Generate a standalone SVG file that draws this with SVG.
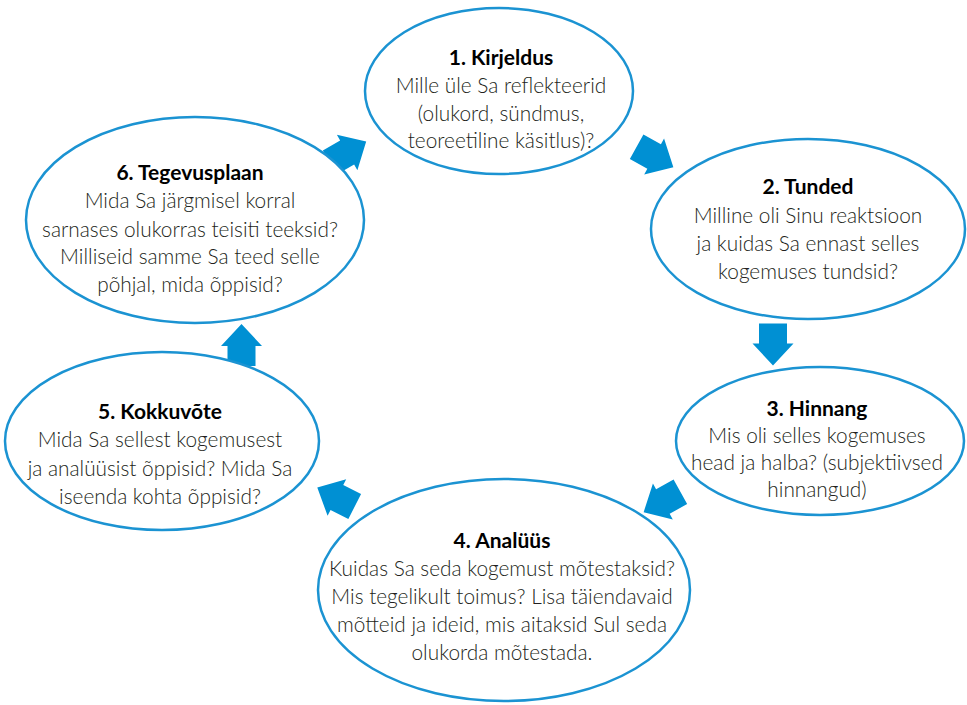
<svg xmlns="http://www.w3.org/2000/svg" width="967" height="705" viewBox="0 0 967 705">
<defs>
<style>
.node ellipse{fill:#fff;stroke:#1b93d2;stroke-width:2.5}
.t{font-family:Lato,"Open Sans","Liberation Sans",sans-serif;font-size:20.8px;fill:#231f20;text-anchor:middle}
.b{font-weight:bold;font-size:21px;fill:#000}
.l{font-weight:300}
.arr{fill:#0090d3}
</style>
<polygon id="ar" points="-21,-14 -1,-14 -1,-20.5 21,0 -1,20.5 -1,14 -21,14"/>
</defs>
<rect width="967" height="705" fill="#fff"/>
<g id="connectors" class="arr">
<use href="#ar" transform="translate(348,152) rotate(-30)"/>
<use href="#ar" transform="translate(655,157) rotate(29)"/>
<use href="#ar" transform="translate(773,344.5) rotate(90)"/>
<use href="#ar" transform="translate(662,502) rotate(151)"/>
<use href="#ar" transform="translate(336,497) rotate(-153)"/>
<use href="#ar" transform="translate(241.5,345) rotate(-90)"/>
</g>
<g id="n1" class="node">
<ellipse cx="499" cy="91" rx="134" ry="83"/>
<text class="t b" x="501" y="65">1. Kirjeldus</text>
<text class="t l" x="501" y="93">Mille üle Sa reflekteerid</text>
<text class="t l" x="501" y="120.5">(olukord, sündmus,</text>
<text class="t l" x="501" y="148">teoreetiline käsitlus)?</text>
</g>
<g id="n2" class="node">
<ellipse cx="808" cy="229" rx="157" ry="90"/>
<text class="t b" x="808" y="194">2. Tunded</text>
<text class="t l" x="808" y="223">Milline oli Sinu reaktsioon</text>
<text class="t l" x="808" y="251">ja kuidas Sa ennast selles</text>
<text class="t l" x="808" y="279">kogemuses tundsid?</text>
</g>
<g id="n3" class="node">
<ellipse cx="820" cy="441" rx="144" ry="74"/>
<text class="t b" x="817" y="416">3. Hinnang</text>
<text class="t l" x="817" y="443">Mis oli selles kogemuses</text>
<text class="t l" x="817" y="470">head ja halba? (subjektiivsed</text>
<text class="t l" x="817" y="497">hinnangud)</text>
</g>
<g id="n4" class="node">
<ellipse cx="504" cy="590" rx="186" ry="111"/>
<text class="t b" x="502" y="548">4. Analüüs</text>
<text class="t l" x="502" y="576">Kuidas Sa seda kogemust mõtestaksid?</text>
<text class="t l" x="502" y="604">Mis tegelikult toimus? Lisa täiendavaid</text>
<text class="t l" x="502" y="632">mõtteid ja ideid, mis aitaksid Sul seda</text>
<text class="t l" x="502" y="660">olukorda mõtestada.</text>
</g>
<g id="n5" class="node">
<ellipse cx="162" cy="441" rx="157" ry="89"/>
<text class="t b" x="160" y="419">5. Kokkuvõte</text>
<text class="t l" x="160" y="447">Mida Sa sellest kogemusest</text>
<text class="t l" x="160" y="476">ja analüüsist õppisid? Mida Sa</text>
<text class="t l" x="160" y="504">iseenda kohta õppisid?</text>
</g>
<g id="n6" class="node">
<ellipse cx="195" cy="220" rx="169" ry="103"/>
<text class="t b" x="190" y="180">6. Tegevusplaan</text>
<text class="t l" x="190" y="208">Mida Sa järgmisel korral</text>
<text class="t l" x="190" y="237">sarnases olukorras teisiti teeksid?</text>
<text class="t l" x="190" y="264">Milliseid samme Sa teed selle</text>
<text class="t l" x="190" y="292">põhjal, mida õppisid?</text>
</g>
</svg>
